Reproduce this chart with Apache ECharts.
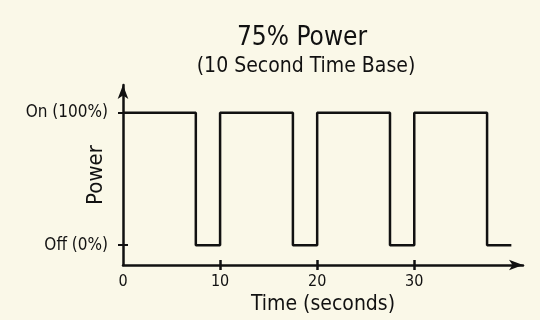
<!DOCTYPE html>
<html>
<head>
<meta charset="utf-8">
<script src="https://cdn.jsdelivr.net/npm/echarts@6/dist/echarts.min.js"></script>
<style>
  html, body { margin: 0; padding: 0; background: #faf8e8; }
  #chart { width: 540px; height: 320px; }
</style>
</head>
<body>
<div id="chart"></div>
<script>
// on/off switching points of the 10 s time base, 75% duty
const times = [0, 7.5, 10, 17.5, 20, 27.5, 30, 37.5, 40]
const power = [1, 0, 1, 0, 1, 0, 1, 0, 0]
const xTicks = [0, 10, 20, 30]
const yTicks = [0, 1]
const yTickLabels = { 0: 'Off (0%)', 1: 'On (100%)' }

const font = "'Liberation Sans Narrow', 'DejaVu Sans Condensed', 'Roboto Condensed', sans-serif"
const ink = '#111'

const chart = echarts.init(document.getElementById('chart'))

const option = {
  backgroundColor: '#faf8e8',
  animation: false,
  title: [
    {
      text: '75% Power',
      left: 297, top: 20, textAlign: 'center',
      textStyle: { fontFamily: font, fontSize: 26, fontWeight: 'normal', color: ink }
    },
    {
      text: '(10 Second Time Base)',
      left: 301, top: 51, textAlign: 'center',
      textStyle: { fontFamily: font, fontSize: 21, fontWeight: 'normal', color: ink }
    }
  ],
  grid: { left: 123, right: 17, top: 85, bottom: 55 },
  xAxis: [{
    type: 'value',
    min: 0,
    max: 41.2,
    name: 'Time (seconds)',
    nameLocation: 'middle',
    nameGap: 29,
    nameMoveOverlap: false,
    nameTextStyle: { fontFamily: font, fontSize: 21, color: ink },
    axisLine: { show: true, onZero: false, symbol: ['none', 'arrow'], symbolSize: [8, 14], lineStyle: { color: ink, width: 2.5 } },
    axisTick: { show: true, customValues: xTicks.slice(1), length: 5, lineStyle: { color: ink, width: 2.5 } },
    axisLabel: { customValues: xTicks, fontFamily: font, fontSize: 16, color: ink, margin: 9 },
    splitLine: { show: false }
  }, {
    // inner half of the x ticks so they cross the axis line
    type: 'value', position: 'bottom', min: 0, max: 41.2,
    axisLine: { show: false, onZero: false },
    axisTick: { show: true, inside: true, customValues: xTicks.slice(1), length: 5, lineStyle: { color: ink, width: 2.5 } },
    axisLabel: { show: false },
    splitLine: { show: false }
  }],
  yAxis: [{
    type: 'value',
    min: -0.15,
    max: 1.21,
    name: 'Power',
    nameLocation: 'middle',
    nameGap: 16,
    nameMoveOverlap: false,
    nameRotate: 90,
    nameTextStyle: { fontFamily: font, fontSize: 22, color: ink },
    axisLine: { show: true, onZero: false, symbol: ['none', 'arrow'], symbolSize: [8, 14], lineStyle: { color: ink, width: 2.5 } },
    axisTick: { show: true, customValues: yTicks, length: 5, lineStyle: { color: ink, width: 2 } },
    axisLabel: {
      customValues: yTicks,
      formatter: v => yTickLabels[v],
      fontFamily: font, fontSize: 17, color: ink, margin: 15
    },
    splitLine: { show: false }
  }, {
    type: 'value', position: 'left', min: -0.15, max: 1.21,
    axisLine: { show: false, onZero: false },
    axisTick: { show: true, inside: true, customValues: yTicks, length: 5, lineStyle: { color: ink, width: 2 } },
    axisLabel: { show: false },
    splitLine: { show: false }
  }],
  series: [{
    type: 'line',
    step: 'end',
    data: times.map((t, i) => [t, power[i]]),
    showSymbol: false,
    lineStyle: { color: ink, width: 2.5 },
    z: 1
  }]
}

chart.setOption(option)
</script>
</body>
</html>
